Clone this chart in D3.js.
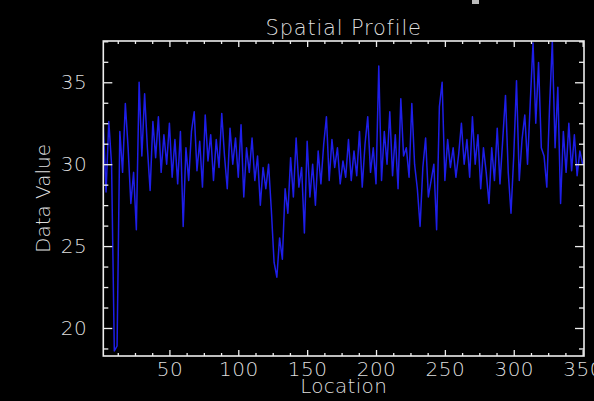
<!DOCTYPE html>
<html>
<head>
<meta charset="utf-8">
<script src="https://cdn.jsdelivr.net/npm/d3@7"></script>
<style>
    html, body { margin: 0; padding: 0; background: #000; overflow: hidden; }
    text { fill: #dedede; }
</style>
</head>
<body>
<div id="main"></div>
<script>
// data: one value every 2 location units, starting at 2
const locStart = 2, locStep = 2;
const values = [
    32.4, 28.3, 32.6, 30.0, 18.6, 18.9, 32.0, 29.5, 33.7, 31.0,
    27.6, 29.5, 26.0, 35.0, 30.5, 34.3, 31.0, 28.4, 32.6, 30.4,
    32.9, 29.5, 31.8, 30.0, 32.5, 29.2, 31.5, 28.8, 32.0, 26.2,
    31.0, 29.0, 32.0, 33.2, 29.6, 31.4, 28.6, 33.0, 30.2, 31.8,
    29.0, 31.5, 29.8, 33.1, 30.5, 28.5, 32.2, 30.0, 31.6, 29.2,
    32.4, 28.0, 31.0, 29.5, 31.6, 29.0, 30.5, 27.5, 29.8, 28.5,
    30.0, 27.2, 24.0, 23.1, 25.5, 24.2, 28.5, 27.0, 30.4, 28.0,
    31.6, 28.6, 29.8, 25.8, 31.4, 28.0, 30.0, 27.5, 30.8, 28.8,
    31.2, 32.9, 29.0, 31.5, 29.8, 31.0, 28.8, 30.2, 29.2, 31.5,
    29.0, 30.8, 29.3, 32.0, 28.6, 31.2, 32.9, 29.5, 31.0, 28.8,
    36.0, 29.0, 32.0, 30.0, 33.2, 29.3, 31.8, 28.5, 34.0, 30.5,
    31.0, 29.2, 33.7, 30.0, 28.5, 26.2, 29.8, 31.6, 28.0, 29.0,
    30.0, 26.0, 33.5, 35.0, 29.0, 31.5, 29.8, 31.0, 29.2, 30.6,
    32.5, 30.0, 31.5, 29.2, 32.9, 30.0, 31.8, 28.5, 31.0, 29.5,
    27.6, 31.0, 29.0, 32.2, 28.8, 31.5, 34.2, 29.5, 27.0, 30.5,
    35.1, 29.0, 31.5, 33.0, 30.0, 33.8, 37.4, 32.5, 36.2, 31.0,
    30.5, 28.6, 33.5, 37.5, 31.0, 34.7, 27.6, 32.0, 29.5, 32.5,
    29.6, 31.8, 29.3, 30.8, 30.0
];

const xDomain = [2, 351];
const yDomain = [18.29, 37.52];
const xMajorTicks = [50, 100, 150, 200, 250, 300, 350];
const xMinorTicks = [12.5, 25, 37.5, 62.5, 75, 87.5, 112.5, 125, 137.5, 162.5, 175, 187.5,
    212.5, 225, 237.5, 262.5, 275, 287.5, 312.5, 325, 337.5];
const yMajorTicks = [20, 25, 30, 35];
const yMinorTicks = [18.75, 21.25, 22.5, 23.75, 26.25, 27.5, 28.75, 31.25, 32.5, 33.75, 36.25, 37.5];

const titleText = "Spatial Profile";
const xTitle = "Location";
const yTitle = "Data Value";

const width = 594, height = 401;
const margin = {left: 103.3, top: 41, right: 10, bottom: 45};
const font = "'DejaVu Sans', sans-serif";

let svg = d3.select("#main").append("svg")
    .attr("width", width)
    .attr("height", height)
    .style("display", "block")
    .style("background", "#000");

let scaleX = d3.scaleLinear().domain(xDomain).range([margin.left, width - margin.right]);
let scaleY = d3.scaleLinear().domain(yDomain).range([height - margin.bottom, margin.top]);

function styleAxis(g) {
    g.select(".domain").remove();
    g.selectAll("line").attr("stroke", "#eee").attr("stroke-width", 1.3);
    g.attr("font-family", font).attr("font-size", 20).attr("font-weight", 200);
    g.selectAll("text").attr("fill", "#dedede").attr("letter-spacing", 0.5);
}

function draw() {
    const x0 = scaleX.range()[0], x1 = scaleX.range()[1];
    const y0 = scaleY.range()[1], y1 = scaleY.range()[0];

    svg.append("clipPath").attr("id", "plotclip")
        .append("rect")
        .attr("x", x0).attr("y", y0)
        .attr("width", x1 - x0).attr("height", y1 - y0);

    // profile line
    svg.append("path")
        .datum(values)
        .attr("clip-path", "url(#plotclip)")
        .attr("fill", "none")
        .attr("stroke", "#1e1ee8")
        .attr("stroke-width", 1.5)
        .attr("stroke-linejoin", "round")
        .attr("d", d3.line()
            .x(function (d, i) { return scaleX(locStart + i * locStep); })
            .y(function (d) { return scaleY(d); })
        );

    // ticks, all pointing inward
    svg.append("g").attr("transform", `translate(0,${y1})`)
        .call(d3.axisBottom(scaleX).tickValues(xMajorTicks).tickSize(-6).tickPadding(6).tickFormat(d3.format("d")))
        .call(styleAxis);
    svg.append("g").attr("transform", `translate(0,${y1})`)
        .call(d3.axisBottom(scaleX).tickValues(xMinorTicks).tickSize(-3).tickFormat(""))
        .call(styleAxis);
    svg.append("g").attr("transform", `translate(0,${y0})`)
        .call(d3.axisTop(scaleX).tickValues(xMajorTicks).tickSize(-6).tickFormat(""))
        .call(styleAxis);
    svg.append("g").attr("transform", `translate(0,${y0})`)
        .call(d3.axisTop(scaleX).tickValues(xMinorTicks).tickSize(-3).tickFormat(""))
        .call(styleAxis);

    svg.append("g").attr("transform", `translate(${x0},0)`)
        .call(d3.axisLeft(scaleY).tickValues(yMajorTicks).tickSize(-9).tickPadding(16).tickFormat(d3.format("d")))
        .call(styleAxis);
    svg.append("g").attr("transform", `translate(${x0},0)`)
        .call(d3.axisLeft(scaleY).tickValues(yMinorTicks).tickSize(-5).tickFormat(""))
        .call(styleAxis);
    svg.append("g").attr("transform", `translate(${x1},0)`)
        .call(d3.axisRight(scaleY).tickValues(yMajorTicks).tickSize(-9).tickFormat(""))
        .call(styleAxis);
    svg.append("g").attr("transform", `translate(${x1},0)`)
        .call(d3.axisRight(scaleY).tickValues(yMinorTicks).tickSize(-5).tickFormat(""))
        .call(styleAxis);

    // frame
    svg.append("rect")
        .attr("x", x0).attr("y", y0)
        .attr("width", x1 - x0).attr("height", y1 - y0)
        .attr("fill", "none")
        .attr("stroke", "#eee")
        .attr("stroke-width", 1.6);

    svg.append("text")
        .attr("x", (x0 + x1) / 2).attr("y", 35)
        .attr("text-anchor", "middle")
        .attr("font-family", font).attr("font-size", 21).attr("font-weight", 200)
        .attr("letter-spacing", 0.8)
        .text(titleText);

    svg.append("text")
        .attr("x", (x0 + x1) / 2).attr("y", 393)
        .attr("text-anchor", "middle")
        .attr("font-family", font).attr("font-size", 20).attr("font-weight", 200)
        .attr("letter-spacing", 0.3)
        .text(xTitle);

    svg.append("text")
        .attr("transform", `translate(50,${(y0 + y1) / 2}) rotate(-90)`)
        .attr("text-anchor", "middle")
        .attr("font-family", font).attr("font-size", 20).attr("font-weight", 200)
        .text(yTitle);

    // small mark at the top edge of the source image
    svg.append("rect")
        .attr("x", 472).attr("y", 0).attr("width", 7).attr("height", 4)
        .attr("fill", "#bbb");
}

draw();
</script>
</body>
</html>
